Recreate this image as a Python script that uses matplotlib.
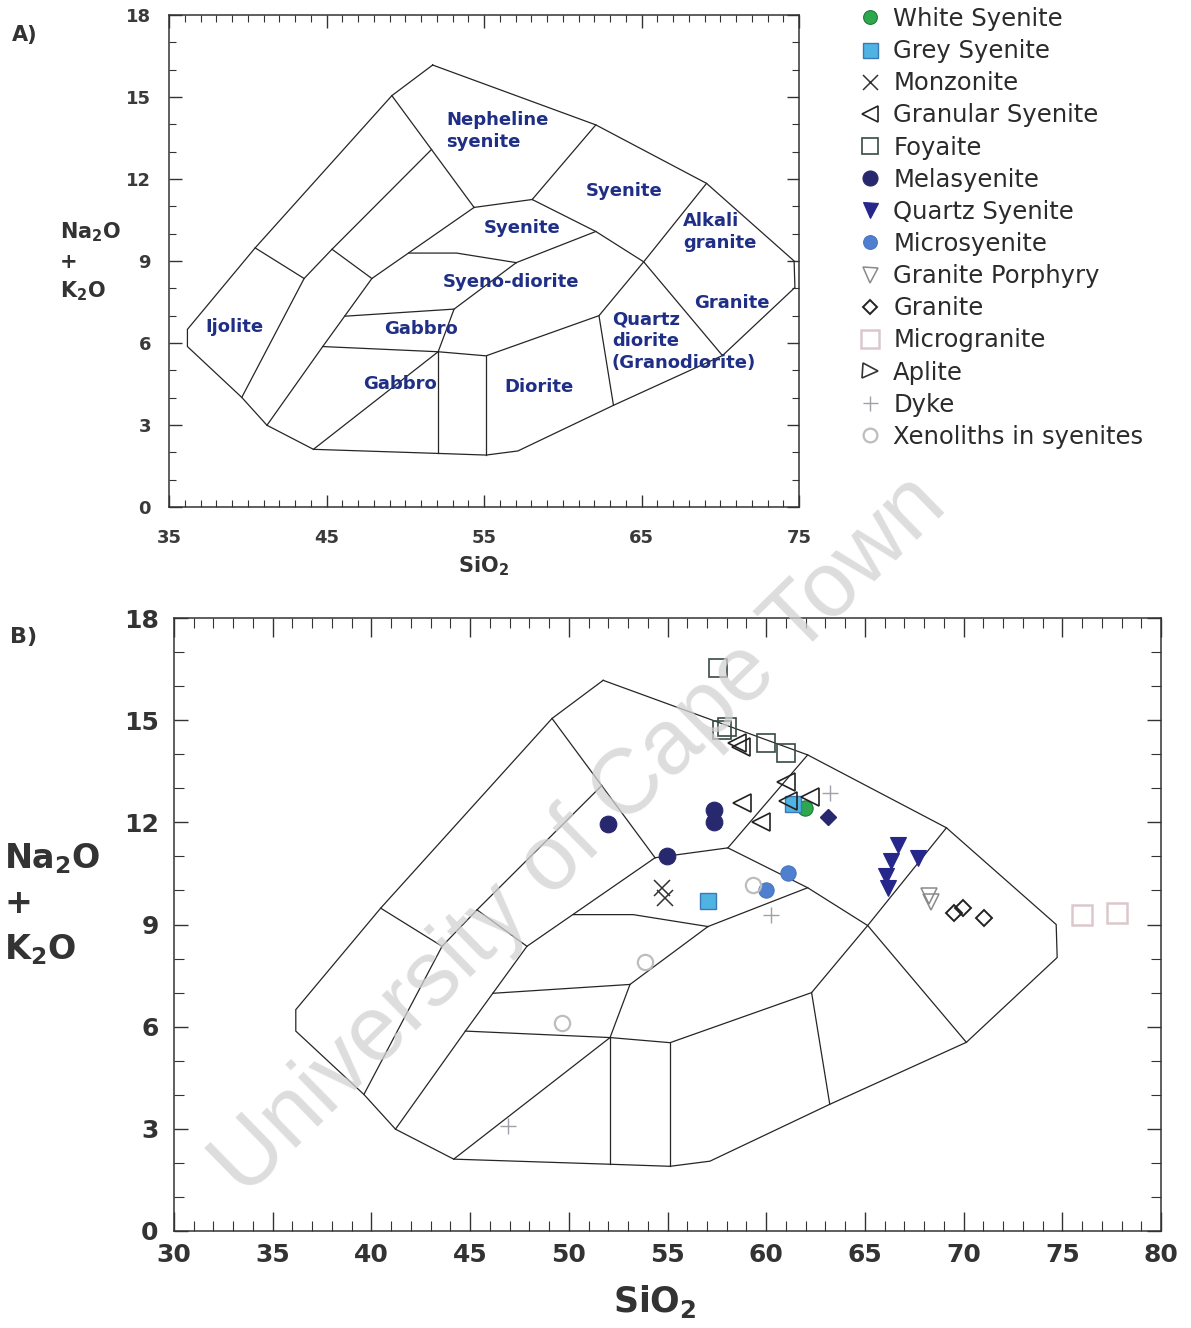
import matplotlib
matplotlib.use('Agg')
import matplotlib.pyplot as plt
from matplotlib.ticker import MultipleLocator, FixedLocator

plt.rcParams['font.family'] = ['DejaVu Sans']
plt.rcParams['mathtext.default'] = 'bf'

W, H = 1191, 1328

# ---------------- field boundaries (SiO2, Na2O+K2O) ----------------
outline_x = [51.74, 62.10, 69.13, 74.69, 74.74, 70.14, 63.22, 57.15, 55.13, 52.09,
             44.17, 41.22, 39.62, 36.17, 36.17, 40.47, 49.15, 51.74]
outline_y = [16.17, 13.98, 11.84, 9.00, 8.03, 5.54, 3.72, 2.05, 1.90, 1.96,
             2.11, 2.99, 4.01, 5.87, 6.50, 9.48, 15.05, 16.17]
neph_left_x = [49.15, 54.37]
neph_left_y = [15.05, 10.96]
diag2_x = [51.67, 45.35, 43.58, 39.62]
diag2_y = [13.08, 9.43, 8.36, 4.01]
diag3_x = [54.37, 47.88, 44.76, 41.22]
diag3_y = [10.96, 8.36, 5.87, 2.99]
cross1_x = [40.47, 43.58]
cross1_y = [9.48, 8.36]
cross2_x = [45.35, 47.88]
cross2_y = [9.43, 8.36]
neph_base_x = [54.37, 58.06]
neph_base_y = [10.96, 11.25]
neph_right_x = [58.06, 62.10]
neph_right_y = [11.25, 13.98]
syen_base_x = [58.06, 62.10, 65.14, 70.14]
syen_base_y = [11.25, 10.08, 8.97, 5.54]
qz_line_x = [69.13, 65.14, 62.30, 63.22]
qz_line_y = [11.84, 8.97, 7.00, 3.72]
inner_base_x = [50.22, 53.26, 57.05]
inner_base_y = [9.29, 9.29, 8.94]
inner_right_x = [57.05, 62.10]
inner_right_y = [8.94, 10.08]
sd_left_x = [57.05, 53.10, 52.09]
sd_left_y = [8.94, 7.24, 5.68]
gab_top_x = [46.15, 53.10]
gab_top_y = [6.98, 7.24]
gab_base_x = [44.76, 52.09, 55.13, 62.30]
gab_base_y = [5.87, 5.68, 5.53, 7.00]
vert1_x = [52.09, 52.09]
vert1_y = [5.68, 1.96]
vert2_x = [55.13, 55.13]
vert2_y = [5.53, 1.90]
gab_low_x = [52.09, 44.17]
gab_low_y = [5.68, 2.11]

field_lines = [(outline_x, outline_y), (neph_left_x, neph_left_y), (diag2_x, diag2_y),
               (diag3_x, diag3_y), (cross1_x, cross1_y), (cross2_x, cross2_y),
               (neph_base_x, neph_base_y), (neph_right_x, neph_right_y),
               (syen_base_x, syen_base_y), (qz_line_x, qz_line_y),
               (inner_base_x, inner_base_y), (inner_right_x, inner_right_y),
               (sd_left_x, sd_left_y), (gab_top_x, gab_top_y), (gab_base_x, gab_base_y),
               (vert1_x, vert1_y), (vert2_x, vert2_y), (gab_low_x, gab_low_y)]

# ---------------- field names (panel A) ----------------
field_names = ['Nepheline\nsyenite', 'Syenite', 'Syenite', 'Alkali\ngranite', 'Syeno-diorite',
               'Granite', 'Ijolite', 'Gabbro', 'Quartz\ndiorite\n(Granodiorite)', 'Gabbro', 'Diorite']
field_name_x = [52.62, 63.88, 57.39, 67.63, 56.69, 70.75, 39.13, 50.97, 63.12, 49.69, 58.47]
field_name_y = [13.76, 11.56, 10.21, 10.06, 8.23, 7.46, 6.59, 6.51, 6.07, 4.50, 4.39]
field_name_ha = ['left', 'center', 'center', 'left', 'center', 'center', 'center', 'center',
                 'left', 'center', 'center']

# ---------------- samples (panel B) ----------------
white_syenite_x = [61.95]
white_syenite_y = [12.43]
grey_syenite_x = [57.06, 61.35]
grey_syenite_y = [9.68, 12.55]
monzonite_x = [54.71, 54.87]
monzonite_y = [10.07, 9.78]
granular_x = [58.50, 58.70, 61.02, 58.75, 59.76, 62.20, 61.10]
granular_y = [14.32, 14.22, 13.19, 12.56, 12.02, 12.75, 12.62]
foyaite_x = [57.57, 57.74, 57.99, 60.01, 61.02]
foyaite_y = [16.52, 14.71, 14.81, 14.32, 14.03]
melasyenite_x = [52.00, 54.96, 57.35, 57.35]
melasyenite_y = [11.95, 11.00, 12.35, 12.02]
quartz_syenite_x = [66.67, 66.33, 66.08, 66.16, 67.68]
quartz_syenite_y = [11.34, 10.85, 10.41, 10.07, 10.95]
microsyenite_x = [60.01, 61.11]
microsyenite_y = [10.02, 10.51]
granite_porphyry_x = [68.27, 68.35]
granite_porphyry_y = [9.85, 9.65]
granite_x = [69.53, 69.96, 71.05]
granite_y = [9.34, 9.48, 9.19]
microgranite_x = [76.02, 77.79]
microgranite_y = [9.29, 9.34]
aplite_x = []
aplite_y = []
dyke_x = [63.22, 60.26, 46.94]
dyke_y = [12.85, 9.29, 3.08]
xenolith_x = [59.34, 53.86, 49.67]
xenolith_y = [10.17, 7.91, 6.12]
other_x = [63.13]
other_y = [12.17]

x_ticks_a = [35, 45, 55, 65, 75]
y_ticks = [0, 3, 6, 9, 12, 15, 18]

fig = plt.figure(figsize=(W / 100, H / 100), dpi=100)
fig.patch.set_facecolor('white')

axA = fig.add_axes([169 / W, 1 - 507 / H, (799 - 169) / W, (507 - 15) / H])
axB = fig.add_axes([174 / W, 1 - 1231 / H, (1161 - 174) / W, (1231 - 618) / H])

line_col = '#262626'
for ax in (axA, axB):
    for lx, ly in field_lines:
        ax.plot(lx, ly, color=line_col, lw=0.9, solid_joinstyle='miter', zorder=2)
    for sp in ax.spines.values():
        sp.set_linewidth(1.1)
        sp.set_color('#333333')
    ax.set_ylim(0, 18)
    ax.set_yticks(y_ticks)
    ax.yaxis.set_minor_locator(MultipleLocator(1))
    ax.xaxis.set_minor_locator(MultipleLocator(1))
    ax.tick_params(which='both', direction='in', top=True, right=True, colors='#333333')

# Panel A
axA.set_xlim(35, 75)
axA.xaxis.set_major_locator(FixedLocator(x_ticks_a))
axA.tick_params(which='major', length=9, width=1, labelsize=13)
axA.tick_params(which='minor', length=5, width=0.8)
axA.tick_params(axis='x', pad=16)
axA.tick_params(axis='y', pad=13)
for lab in axA.get_xticklabels() + axA.get_yticklabels():
    lab.set_fontweight('bold')
    lab.set_color('#3a3a3a')

for name, x, y, ha in zip(field_names, field_name_x, field_name_y, field_name_ha):
    axA.text(x, y, name, ha=ha, va='center', fontsize=13, fontweight='bold',
             color='#1f2f85', linespacing=1.25, zorder=3)

axA.set_xlabel('SiO$_2$', fontsize=15, fontweight='bold', color='#333333', labelpad=5)
fig.text(60 / W, 1 - 262 / H, 'Na$_2$O\n+\nK$_2$O', ha='left', va='center',
         fontsize=15, fontweight='bold', color='#333333', linespacing=1.45)
fig.text(12 / W, 1 - 35 / H, 'A)', ha='left', va='center', fontsize=15,
         fontweight='bold', color='#333333')

# Panel B
axB.set_xlim(30, 80)
axB.xaxis.set_major_locator(MultipleLocator(5))
axB.tick_params(which='major', axis='x', length=14, width=1)
axB.tick_params(which='major', axis='y', length=10, width=1)
axB.tick_params(which='minor', length=7, width=0.8)
axB.tick_params(axis='both', labelsize=18)
axB.tick_params(axis='x', pad=9)
axB.tick_params(axis='y', pad=11)
for lab in axB.get_xticklabels() + axB.get_yticklabels():
    lab.set_fontweight('bold')
    lab.set_color('#333333')
axB.set_xlabel('SiO$_2$', fontsize=25, fontweight='bold', color='#333333', labelpad=12)
axB.xaxis.set_label_coords((655 - 174) / (1161 - 174), -0.085)
fig.text(4 / W, 1 - 904 / H, 'Na$_2$O\n+\nK$_2$O', ha='left', va='center',
         fontsize=24, fontweight='bold', color='#333333', linespacing=1.45)
fig.text(10 / W, 1 - 637 / H, 'B)', ha='left', va='center', fontsize=16,
         fontweight='bold', color='#333333')

navy = '#27286e'
def series(x, y, label, **kw):
    h, = axB.plot(x, y, linestyle='none', label=label, zorder=4, **kw)
    return h

h_ws = series(white_syenite_x, white_syenite_y, 'White Syenite', marker='o', ms=11,
              mfc='#2ea84f', mec='#1f7a3a', mew=0.8)
h_gs = series(grey_syenite_x, grey_syenite_y, 'Grey Syenite', marker='s', ms=12,
              mfc='#4fb4e2', mec='#3c78b8', mew=1.0)
h_mz = series(monzonite_x, monzonite_y, 'Monzonite', marker='x', ms=12,
              mec='#333333', mew=1.1)
h_gr = series(granular_x, granular_y, 'Granular Syenite', marker='<', ms=13,
              mfc='none', mec='#222222', mew=1.2)
h_fy = series(foyaite_x, foyaite_y, 'Foyaite', marker='s', ms=13,
              mfc='none', mec='#3a4a45', mew=1.2)
h_ms = series(melasyenite_x, melasyenite_y, 'Melasyenite', marker='o', ms=12,
              mfc=navy, mec=navy, mew=0.8)
h_qs = series(quartz_syenite_x, quartz_syenite_y, 'Quartz Syenite', marker='v', ms=12,
              mfc='#25278a', mec='#25278a', mew=0.8)
h_mi = series(microsyenite_x, microsyenite_y, 'Microsyenite', marker='o', ms=11,
              mfc='#4f7fcf', mec='#4a76c0', mew=0.8)
h_gp = series(granite_porphyry_x, granite_porphyry_y, 'Granite Porphyry', marker='v', ms=12,
              mfc='none', mec='#8a8a8a', mew=1.1)
h_gn = series(granite_x, granite_y, 'Granite', marker='D', ms=8,
              mfc='none', mec='#222222', mew=1.4)
h_mg = series(microgranite_x, microgranite_y, 'Microgranite', marker='s', ms=14,
              mfc='none', mec='#dcc8cc', mew=1.8)
h_ap = series(aplite_x, aplite_y, 'Aplite', marker='>', ms=12,
              mfc='none', mec='#333333', mew=1.2)
h_dk = series(dyke_x, dyke_y, 'Dyke', marker='+', ms=12,
              mec='#a0a0a8', mew=1.0)
h_xe = series(xenolith_x, xenolith_y, 'Xenoliths in syenites', marker='o', ms=11,
              mfc='none', mec='#bdbdbd', mew=1.6)
series(other_x, other_y, '_nolegend_', marker='D', ms=8, mfc=navy, mec=navy)

leg_handles = [h_ws, h_gs, h_mz, h_gr, h_fy, h_ms, h_qs, h_mi, h_gp, h_gn, h_mg, h_ap, h_dk, h_xe]
fig.legend(handles=leg_handles, labels=[h.get_label() for h in leg_handles],
           loc='upper left', bbox_to_anchor=(858 / W, 1 - 7 / H), frameon=False,
           fontsize=17.5, labelspacing=0.335, handletextpad=0.45, handlelength=1.0,
           borderpad=0, borderaxespad=0, markerscale=0.9, labelcolor='#2b2b2b')

# watermark
fig.text(580 / W, 1 - 836 / H, 'University of Cape Town', rotation=44.4,
         rotation_mode='anchor', ha='center', va='center', fontsize=66,
         family=['Liberation Sans', 'DejaVu Sans'], color='#d2d2d2', alpha=0.75, zorder=10)

fig.savefig('out.png', dpi=100, facecolor='white')
